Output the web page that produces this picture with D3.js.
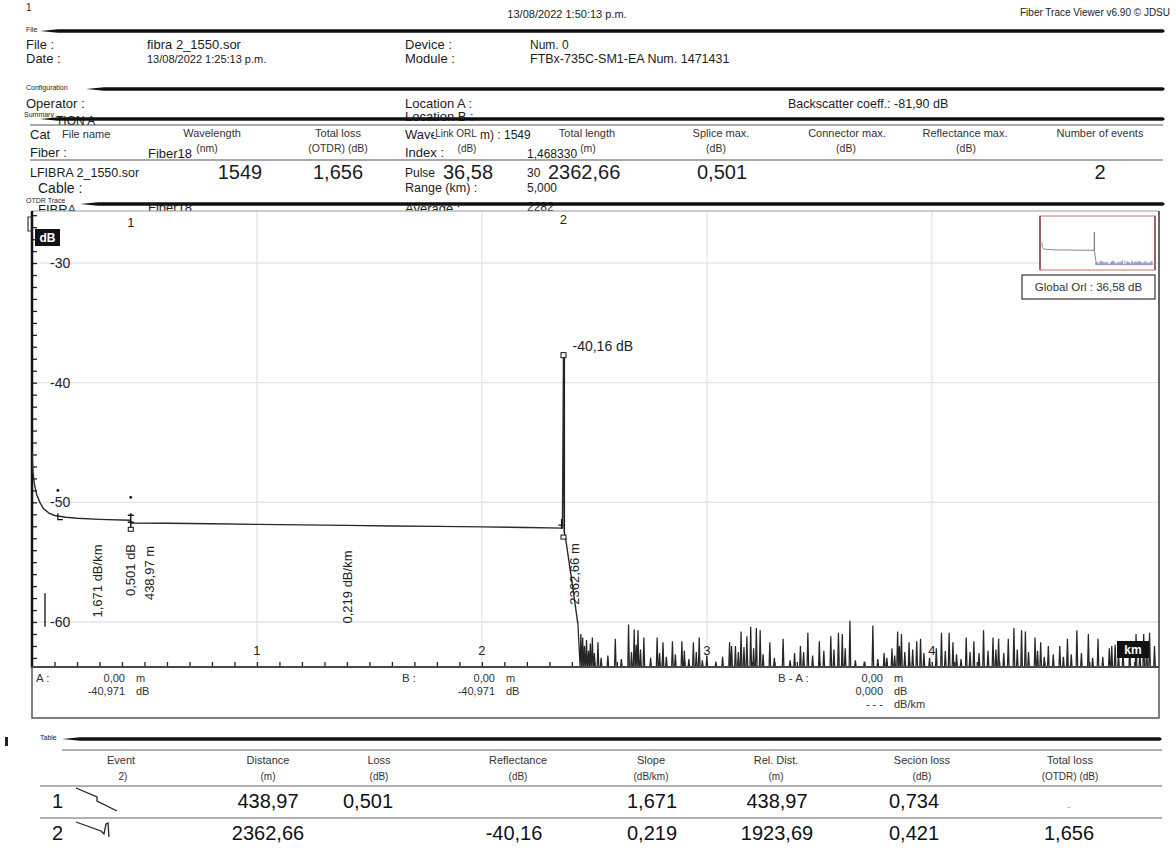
<!DOCTYPE html>
<html>
<head>
<meta charset="utf-8">
<script src="https://cdn.jsdelivr.net/npm/d3@7"></script>
<style>
  body { margin: 0; background: #fff; }
  svg { display: block; }
  text { font-family: "Liberation Sans", Arial, sans-serif; }
</style>
</head>
<body>
<svg id="report" width="1176" height="850"></svg>
<script>
// ---------- trace data ----------
// OTDR trace: distance (km), level (dB)
const trace = [
  [0, -45.8], [0.004, -47.4], [0.01, -48.4], [0.02, -49.3], [0.035, -50.0],
  [0.05, -50.5], [0.075, -50.9], [0.1, -51.1], [0.15, -51.25], [0.2, -51.33],
  [0.3, -51.42], [0.436, -51.5], [0.442, -51.72], [0.6, -51.74], [0.8, -51.79],
  [1.0, -51.84], [1.2, -51.88], [1.4, -51.92], [1.6, -51.97], [1.8, -52.01],
  [2.0, -52.05], [2.2, -52.1], [2.358, -52.15], [2.3627, -37.7], [2.366, -52.5],
  [2.372, -53.0], [2.40, -56.6], [2.427, -60.2]
];
// noise past the fibre end: spike position (km) and spike top (dB)
const noisePeaks = [
  [2.44, -61.0], [2.448, -61.3], [2.456, -62.0], [2.465, -61.5], [2.474, -62.4], [2.482, -61.8],
  [2.491, -61.3], [2.50, -62.6], [2.516, -61.7], [2.53, -63.0], [2.56, -62.8], [2.593, -61.4],
  [2.62, -63.1], [2.652, -60.2], [2.665, -62.5], [2.677, -60.6], [2.686, -61.9], [2.694, -60.7],
  [2.705, -62.3], [2.72, -61.3], [2.75, -63.0], [2.779, -61.3], [2.79, -62.6], [2.805, -61.7],
  [2.82, -62.9], [2.847, -61.6], [2.86, -62.7], [2.889, -61.6], [2.90, -62.4], [2.92, -63.1],
  [2.94, -61.7], [2.953, -62.5], [2.966, -61.3], [2.98, -63.2], [3.0, -62.8], [3.04, -63.3],
  [3.07, -62.9], [3.101, -61.7], [3.11, -62.0], [3.127, -62.0], [3.14, -62.5], [3.152, -60.8],
  [3.165, -62.1], [3.178, -61.2], [3.195, -60.4], [3.208, -62.2], [3.22, -60.5], [3.237, -60.7],
  [3.25, -62.7], [3.28, -61.7], [3.30, -63.0], [3.339, -61.4], [3.37, -63.2], [3.39, -62.6],
  [3.416, -62.0], [3.43, -62.5], [3.449, -60.9], [3.47, -62.8], [3.50, -61.6], [3.52, -62.4],
  [3.551, -61.2], [3.565, -62.3], [3.585, -60.9], [3.602, -61.0], [3.615, -62.2], [3.636, -59.9],
  [3.66, -63.2], [3.70, -63.3], [3.738, -60.3], [3.76, -63.1], [3.788, -62.6], [3.80, -63.0],
  [3.823, -62.2], [3.835, -62.8], [3.848, -60.8], [3.856, -62.0], [3.865, -61.0], [3.88, -62.5],
  [3.899, -61.7], [3.915, -62.3], [3.933, -61.6], [3.95, -61.4], [3.965, -62.6], [3.99, -63.0],
  [4.02, -62.2], [4.043, -60.9], [4.06, -62.4], [4.077, -60.9], [4.094, -61.7], [4.11, -62.7],
  [4.13, -63.1], [4.153, -61.3], [4.17, -62.5], [4.187, -61.6], [4.21, -62.6], [4.23, -60.7],
  [4.25, -62.4], [4.272, -61.3], [4.285, -62.3], [4.297, -61.4], [4.32, -62.6], [4.34, -61.4],
  [4.365, -60.5], [4.38, -62.3], [4.399, -60.7], [4.416, -60.8], [4.43, -62.5], [4.459, -61.3],
  [4.47, -62.4], [4.484, -61.7], [4.50, -62.9], [4.518, -62.0], [4.54, -62.7], [4.569, -62.0],
  [4.585, -62.9], [4.603, -61.4], [4.62, -62.7], [4.645, -60.7], [4.665, -62.6], [4.696, -61.0],
  [4.715, -63.0], [4.739, -61.4], [4.76, -62.9], [4.789, -62.2], [4.80, -62.0], [4.815, -61.9],
  [4.83, -62.7], [4.85, -62.4], [4.88, -62.0], [4.908, -61.0], [4.925, -62.4], [4.942, -61.0],
  [4.955, -62.2], [4.968, -60.9], [4.99, -62.0]
];
const noiseFloor = -63.76;

// detected events (distance in km)
const eventIds = [1, 2];
const eventKm = [0.43897, 2.36266];
const eventPeakDb = -37.7;          // top of the reflective peak at event 2
const eventLevelDb = [-51.5, -52.15];

// axis ticks
const distTicks = [1, 2, 3, 4];
const dbTicks = [-30, -40, -50, -60];
const distRange = [0, 5.01];
const dbRange = [-63.76, -25.65];

// event table
const tableHead1 = ["Event", "Distance", "Loss", "Reflectance", "Slope", "Rel. Dist.", "Secion loss", "Total loss"];
const tableHead2 = ["2)", "(m)", "(dB)", "(dB)", "(dB/km)", "(m)", "(dB)", "(OTDR) (dB)"];
const rowDistance = ["438,97", "2362,66"];
const rowLoss = ["0,501", ""];
const rowReflectance = ["", "-40,16"];
const rowSlope = ["1,671", "0,219"];
const rowRelDist = ["438,97", "1923,69"];
const rowSectionLoss = ["0,734", "0,421"];
const rowTotalLoss = ["", "1,656"];

// summary
const summaryHead1 = ["Wavelength", "Total loss", "Link ORL", "Total length", "Splice max.", "Connector max.", "Reflectance max.", "Number of events"];
const summaryHead2 = ["(nm)", "(OTDR) (dB)", "(dB)", "(m)", "(dB)", "(dB)", "(dB)", ""];
const summaryValues = ["1549", "1,656", "36,58", "2362,66", "0,501", "", "", "2"];

// ---------- drawing ----------
const svg = d3.select("#report");

function txt(g, x, y, s, o = {}) {
  const t = g.append("text")
    .attr("x", x).attr("y", y).text(s)
    .attr("font-size", o.size || 12)
    .attr("text-anchor", o.anchor || "start")
    .attr("fill", o.fill || "#1c1c1c");
  if (o.family) t.attr("font-family", o.family);
  if (o.weight) t.attr("font-weight", o.weight);
  return t;
}
function thickRule(x0, x1, y) {
  svg.append("path")
    .attr("d", `M${x0},${y} L${x0 + 18},${y - 1.8} L${x1},${y - 1.8} L${x1 + 2},${y} L${x1},${y + 1.8} L${x0 + 18},${y + 1.8} Z`)
    .attr("fill", "#111");
}
function thinRule(x0, x1, y, c = "#777") {
  svg.append("line").attr("x1", x0).attr("x2", x1).attr("y1", y).attr("y2", y)
    .attr("stroke", c).attr("stroke-width", 1.2);
}
const SERIF = "'Liberation Serif', 'DejaVu Serif', serif";

// page header
txt(svg, 26, 11, "1", { size: 10, family: SERIF });
txt(svg, 567, 18, "13/08/2022 1:50:13 p.m.", { size: 11, anchor: "middle" });
txt(svg, 1170, 16, "Fiber Trace Viewer v6.90  \u00A9 JDSU", { size: 10, anchor: "end", family: SERIF });

// File section
txt(svg, 26, 32, "File", { size: 7, family: SERIF });
thickRule(40, 1163, 31);
txt(svg, 26, 49, "File :", { size: 13 });
txt(svg, 147, 49, "fibra 2_1550.sor", { size: 13 });
txt(svg, 405, 49, "Device :", { size: 13 });
txt(svg, 530, 49, "Num. 0", { size: 12 });
txt(svg, 26, 63, "Date :", { size: 13 });
txt(svg, 147, 63, "13/08/2022 1:25:13 p.m.", { size: 11 });
txt(svg, 405, 63, "Module :", { size: 13 });
txt(svg, 530, 63, "FTBx-735C-SM1-EA Num. 1471431", { size: 12.5 });

// Configuration section
txt(svg, 26, 90, "Configuration", { size: 7, family: SERIF });
thickRule(86, 1163, 89);
txt(svg, 26, 108, "Operator :", { size: 13 });
txt(svg, 405, 108, "Location A :", { size: 13 });
txt(svg, 788, 108, "Backscatter coeff.: -81,90 dB", { size: 12.5 });

// configuration lines running under the summary block
txt(svg, 56, 125, "TION A", { size: 12 });
txt(svg, 405, 121, "Location B :", { size: 13 });
txt(svg, 30, 139, "Cat", { size: 13 });
txt(svg, 405, 139, "Wave", { size: 13 });
txt(svg, 480, 139, "m) : 1549", { size: 12 });
txt(svg, 30, 157, "Fiber :", { size: 13 });
txt(svg, 148, 158, "Fiber18", { size: 13 });
txt(svg, 405, 157, "Index :", { size: 13 });
txt(svg, 527, 158, "1,468330", { size: 12 });
txt(svg, 405, 177, "Pulse", { size: 12 });
txt(svg, 527, 177, "30", { size: 12 });
txt(svg, 38, 193, "Cable :", { size: 14 });
txt(svg, 405, 192, "Range (km) :", { size: 12.5 });
txt(svg, 527, 192, "5,000", { size: 12 });
txt(svg, 38, 214, "FIBRA", { size: 13 });
txt(svg, 148, 212, "Fiber18", { size: 13 });
txt(svg, 405, 213, "Average :", { size: 13 });
txt(svg, 527, 211, "2282", { size: 12 });

// Summary section
txt(svg, 24, 117, "Summary", { size: 7, family: SERIF });
thickRule(40, 1163, 119);
thinRule(30, 1163, 125, "#555");
const sumHeadX = [212, 338, 456, 587, 721, 847, 965, 1100];
const sumHead2X = [207, 338, 467, 588, 716, 846, 966, 1100];
function boxedLabel(x, y, s, size, anchor) {
  const t = txt(svg, x, y, s, { size: size, anchor: anchor, fill: "#333" });
  const b = t.node().getBBox();
  svg.insert("rect", () => t.node()).attr("x", b.x - 1).attr("y", b.y + 1).attr("width", b.width + 2).attr("height", b.height - 2).attr("fill", "#fff");
}
boxedLabel(62, 138, "File name", 11, "start");
summaryHead1.forEach((s, i) => boxedLabel(sumHeadX[i], 137, s, i === 2 ? 10 : 11, "middle"));
summaryHead2.forEach((s, i) => { if (s) boxedLabel(sumHead2X[i], 152, s, i === 2 ? 10 : 10.5, "middle"); });
thinRule(30, 1163, 160, "#555");
txt(svg, 30, 177, "LFIBRA 2_1550.sor", { size: 12.5 });
const sumValX = [240, 338, 443, 548, 722, 847, 965, 1100];
summaryValues.forEach((s, i) => {
  if (s) txt(svg, sumValX[i], 179, s, { size: 20, anchor: (i === 2 || i === 3) ? "start" : "middle" });
});

// OTDR Trace section
txt(svg, 26, 203, "OTDR Trace", { size: 7, family: SERIF });
thickRule(80, 1163, 204);

// ---------- trace plot ----------
const P = { left: 32, right: 1159, top: 211, bottom: 667 };
const x = d3.scaleLinear().domain(distRange).range([P.left, P.right]);
const y = d3.scaleLinear().domain(dbRange).range([P.bottom, P.top]);

const plot = svg.append("g");
plot.append("rect").attr("x", P.left).attr("y", P.top).attr("width", P.right - P.left).attr("height", P.bottom - P.top)
  .attr("fill", "#fff");
svg.append("clipPath").attr("id", "plotclip").append("rect")
  .attr("x", P.left).attr("y", P.top).attr("width", P.right - P.left).attr("height", P.bottom - P.top);

// grid
plot.selectAll("line.vg").data(distTicks).join("line").attr("class", "vg")
  .attr("x1", d => x(d)).attr("x2", d => x(d)).attr("y1", P.top).attr("y2", P.bottom)
  .attr("stroke", "#e3e3f0").attr("stroke-width", 1.3);
plot.selectAll("line.hg").data(dbTicks).join("line").attr("class", "hg")
  .attr("x1", P.left).attr("x2", P.right).attr("y1", d => y(d)).attr("y2", d => y(d))
  .attr("stroke", "#e3e3f0").attr("stroke-width", 1.3);

// frame
plot.append("line").attr("x1", P.left).attr("x2", P.right).attr("y1", P.top).attr("y2", P.top).attr("stroke", "#999").attr("stroke-width", 1.2);
plot.append("line").attr("x1", P.right).attr("x2", P.right).attr("y1", P.top).attr("y2", P.bottom).attr("stroke", "#333").attr("stroke-width", 1.5);

// minor ticks: 1 dB on the level axis, 0.1 km on the distance axis
const yAxis = d3.axisRight(y).tickValues(d3.range(-63, -25)).tickSize(5).tickFormat("");
plot.append("g").attr("transform", `translate(${P.left},0)`).call(yAxis)
  .call(g => g.select(".domain").remove())
  .call(g => g.selectAll(".tick line").attr("stroke", "#222").attr("stroke-width", 1.3));
const xAxis = d3.axisTop(x).tickValues(d3.range(1, 50).map(i => i / 10)).tickSize(5).tickFormat("");
plot.append("g").attr("transform", `translate(0,${P.bottom})`).call(xAxis)
  .call(g => g.select(".domain").remove())
  .call(g => g.selectAll(".tick line").attr("stroke", "#222").attr("stroke-width", 1.3));

// axis lines
plot.append("line").attr("x1", P.left).attr("x2", P.left).attr("y1", P.top).attr("y2", P.bottom + 1)
  .attr("stroke", "#111").attr("stroke-width", 2.5);
plot.append("line").attr("x1", P.left).attr("x2", P.right).attr("y1", P.bottom).attr("y2", P.bottom)
  .attr("stroke", "#222").attr("stroke-width", 2);

// tick labels
plot.selectAll("text.yl").data(dbTicks).join("text").attr("class", "yl")
  .attr("x", P.left + 18).attr("y", d => y(d) + 5).text(d => d)
  .attr("font-size", 14).attr("fill", "#222");
plot.selectAll("text.xl").data(distTicks).join("text").attr("class", "xl")
  .attr("x", d => x(d)).attr("y", P.bottom - 12).attr("text-anchor", "middle").text(d => d)
  .attr("font-size", 13).attr("fill", "#222");

// trace and noise
const line = d3.line().x(d => x(d[0])).y(d => y(d[1]));
const noisePts = [];
noisePeaks.forEach(([k, v]) => {
  noisePts.push([k - 0.0035, noiseFloor], [k, v], [k + 0.0035, noiseFloor]);
});
const clipped = plot.append("g").attr("clip-path", "url(#plotclip)");
clipped.append("path").attr("d", line([trace[trace.length - 1], ...noisePts]))
  .attr("fill", "none").attr("stroke", "#262626").attr("stroke-width", 1.25);
clipped.append("path").attr("d", line(trace))
  .attr("fill", "none").attr("stroke", "#2a2a2a").attr("stroke-width", 1.4);

// event markers
const e1x = x(eventKm[0]), e2x = x(eventKm[1]);
const e1y = y(eventLevelDb[0]), e2y = y(eventLevelDb[1]);
plot.append("path").attr("d", `M${e1x},${e1y - 7} L${e1x},${e1y + 9} M${e1x - 3},${e1y - 5} L${e1x + 3},${e1y - 5} M${e1x - 3},${e1y + 2} L${e1x + 3},${e1y + 2}`)
  .attr("stroke", "#111").attr("stroke-width", 1.4).attr("fill", "none");
plot.append("rect").attr("x", e1x - 2.5).attr("y", e1y + 7).attr("width", 5).attr("height", 4).attr("fill", "#fff").attr("stroke", "#111");
plot.append("circle").attr("cx", e1x).attr("cy", e1y - 23).attr("r", 1.4).attr("fill", "#111");
plot.append("circle").attr("cx", x(0.115)).attr("cy", y(-49.0)).attr("r", 1.4).attr("fill", "#111");
plot.append("path").attr("d", `M${x(0.115)},${y(-50.9)} L${x(0.115)},${y(-51.45)} L${x(0.115) + 5},${y(-51.45)}`)
  .attr("stroke", "#111").attr("stroke-width", 1.2).attr("fill", "none");
plot.append("line").attr("x1", e2x + 1).attr("x2", e2x + 1).attr("y1", y(eventPeakDb)).attr("y2", e2y + 6)
  .attr("stroke", "#222").attr("stroke-width", 1.2);
plot.append("rect").attr("x", e2x - 2.5).attr("y", y(eventPeakDb) - 2.5).attr("width", 5).attr("height", 5).attr("fill", "#fff").attr("stroke", "#111");
plot.append("rect").attr("x", e2x - 2.5).attr("y", e2y + 7).attr("width", 5).attr("height", 4).attr("fill", "#fff").attr("stroke", "#111");
plot.append("path").attr("d", `M${e2x - 2},${e2y - 9} L${e2x - 2},${e2y + 1} M${e2x - 5},${e2y - 3} L${e2x},${e2y - 3}`)
  .attr("stroke", "#111").attr("stroke-width", 1.1);
plot.append("line").attr("x1", P.left + 13).attr("x2", P.left + 13).attr("y1", y(-57.6)).attr("y2", y(-60.4))
  .attr("stroke", "#111").attr("stroke-width", 1.3);
// cursor bracket at the origin
plot.append("path").attr("d", `M${P.left + 1},${P.top + 6} L${P.left - 4},${P.top + 6} L${P.left - 4},${P.top + 20} L${P.left + 1},${P.top + 20}`)
  .attr("stroke", "#333").attr("stroke-width", 1.2).attr("fill", "none");

// event numbers
eventIds.forEach((id, i) => txt(plot, x(eventKm[i]), P.top + 16 - i * 3, id, { size: 13, anchor: "middle", fill: "#222" }));

// rotated annotations
function vtxt(cx, cy, s) {
  plot.append("text").attr("transform", `translate(${cx},${cy}) rotate(-90)`)
    .attr("text-anchor", "middle").attr("dy", "0.35em").attr("font-size", 13).attr("fill", "#222").text(s);
}
vtxt(x(0.29), 581, "1,671 dB/km");
vtxt(e1x, 570, "0,501 dB");
vtxt(e1x + 19, 573, "438,97 m");
vtxt(x((eventKm[0] + eventKm[1]) / 2), 587, "0,219 dB/km");
vtxt(e2x + 11, 574, "2362,66 m");
txt(plot, e2x + 9, y(eventPeakDb) - 4, "-40,16 dB", { size: 14, fill: "#222" });

// unit badges
plot.append("rect").attr("x", 35).attr("y", 229).attr("width", 25).attr("height", 17).attr("fill", "#111");
txt(plot, 47.5, 242, "dB", { size: 12, anchor: "middle", fill: "#fff", weight: "bold" });
plot.append("rect").attr("x", 1117).attr("y", 641).attr("width", 32).attr("height", 17).attr("fill", "#111");
txt(plot, 1133, 654, "km", { size: 12, anchor: "middle", fill: "#fff", weight: "bold" });

// overview inset
const xm = d3.scaleLinear().domain(distRange).range([1042, 1153]);
const ym = d3.scaleLinear().domain(dbRange).range([265, 217]);
const lineM = d3.line().x(d => xm(d[0])).y(d => ym(d[1]));
plot.append("rect").attr("x", 1040).attr("y", 216).attr("width", 115).attr("height", 54)
  .attr("fill", "#fff").attr("stroke", "#d9a3a3").attr("stroke-width", 1.5);
plot.append("line").attr("x1", 1040).attr("x2", 1040).attr("y1", 216).attr("y2", 270).attr("stroke", "#6a2b2b").attr("stroke-width", 1.2);
plot.append("line").attr("x1", 1155).attr("x2", 1155).attr("y1", 216).attr("y2", 270).attr("stroke", "#6a2b2b").attr("stroke-width", 1.2);
plot.append("path").attr("d", lineM(trace)).attr("fill", "none").attr("stroke", "#777").attr("stroke-width", 0.9);
plot.append("path").attr("d", lineM([trace[trace.length - 1], ...noisePts])).attr("fill", "none").attr("stroke", "#9a9ab5").attr("stroke-width", 0.6);
plot.append("rect").attr("x", 1022).attr("y", 275).attr("width", 133).attr("height", 24)
  .attr("fill", "#fff").attr("stroke", "#333").attr("stroke-width", 1.2);
txt(plot, 1088.5, 291, "Global Orl : 36,58 dB", { size: 11.5, anchor: "middle", fill: "#333" });

// cursor readout box
svg.append("rect").attr("x", P.left).attr("y", P.bottom).attr("width", P.right - P.left).attr("height", 51)
  .attr("fill", "none").attr("stroke", "#555").attr("stroke-width", 1.5);
const cursorCols = [
  { lx: 36, label: "A :", nx: 125, vals: ["0,00", "-40,971"], units: ["m", "dB"] },
  { lx: 402, label: "B :", nx: 495, vals: ["0,00", "-40,971"], units: ["m", "dB"] },
  { lx: 778, label: "B - A :", nx: 883, vals: ["0,00", "0,000", "- - -"], units: ["m", "dB", "dB/km"] }
];
cursorCols.forEach(c => {
  txt(svg, c.lx, 682, c.label, { size: 11.5, fill: "#333" });
  c.vals.forEach((v, i) => {
    txt(svg, c.nx, 682 + i * 13, v, { size: 11, anchor: "end", fill: "#333" });
    txt(svg, c.nx + 11, 682 + i * 13, c.units[i], { size: 11, fill: "#333" });
  });
});

// ---------- event table ----------
svg.append("rect").attr("x", 5).attr("y", 737).attr("width", 3).attr("height", 9).attr("fill", "#223");
txt(svg, 40, 740, "Table", { size: 7, family: SERIF });
thickRule(62, 1160, 739);
thinRule(62, 1162, 750, "#666");
const colX = [121, 268, 379, 518, 651, 776, 922, 1070];
tableHead1.forEach((s, i) => txt(svg, colX[i], 764, s, { size: 11, anchor: "middle", fill: "#333" }));
tableHead2.forEach((s, i) => txt(svg, colX[i] + (i === 0 ? 2 : 0), 780, s, { size: 10, anchor: "middle", fill: "#333" }));
thinRule(40, 1162, 786, "#666");
thinRule(40, 1162, 818, "#666");
const rowCols = [rowDistance, rowLoss, rowReflectance, rowSlope, rowRelDist, rowSectionLoss, rowTotalLoss];
const valX = [268, 368, 514, 652, 777, 914, 1069];
eventIds.forEach((id, r) => {
  const by = 808 + r * 32;
  txt(svg, 52, by, id, { size: 20, fill: "#111" });
  rowCols.forEach((col, c) => {
    if (col[r]) txt(svg, valX[c], by, col[r], { size: 20, anchor: "middle", fill: "#111" });
  });
});
txt(svg, 1067, 810, "-", { size: 10, fill: "#aaa" });
// event pictograms
svg.append("path").attr("d", "M76,788 L97,797 L97,801 L117,811").attr("fill", "none").attr("stroke", "#222").attr("stroke-width", 1.3);
svg.append("path").attr("d", "M76,822 L101,831 L104,834 L106,824 L108,823 L109,837").attr("fill", "none").attr("stroke", "#222").attr("stroke-width", 1.3);
</script>
</body>
</html>
